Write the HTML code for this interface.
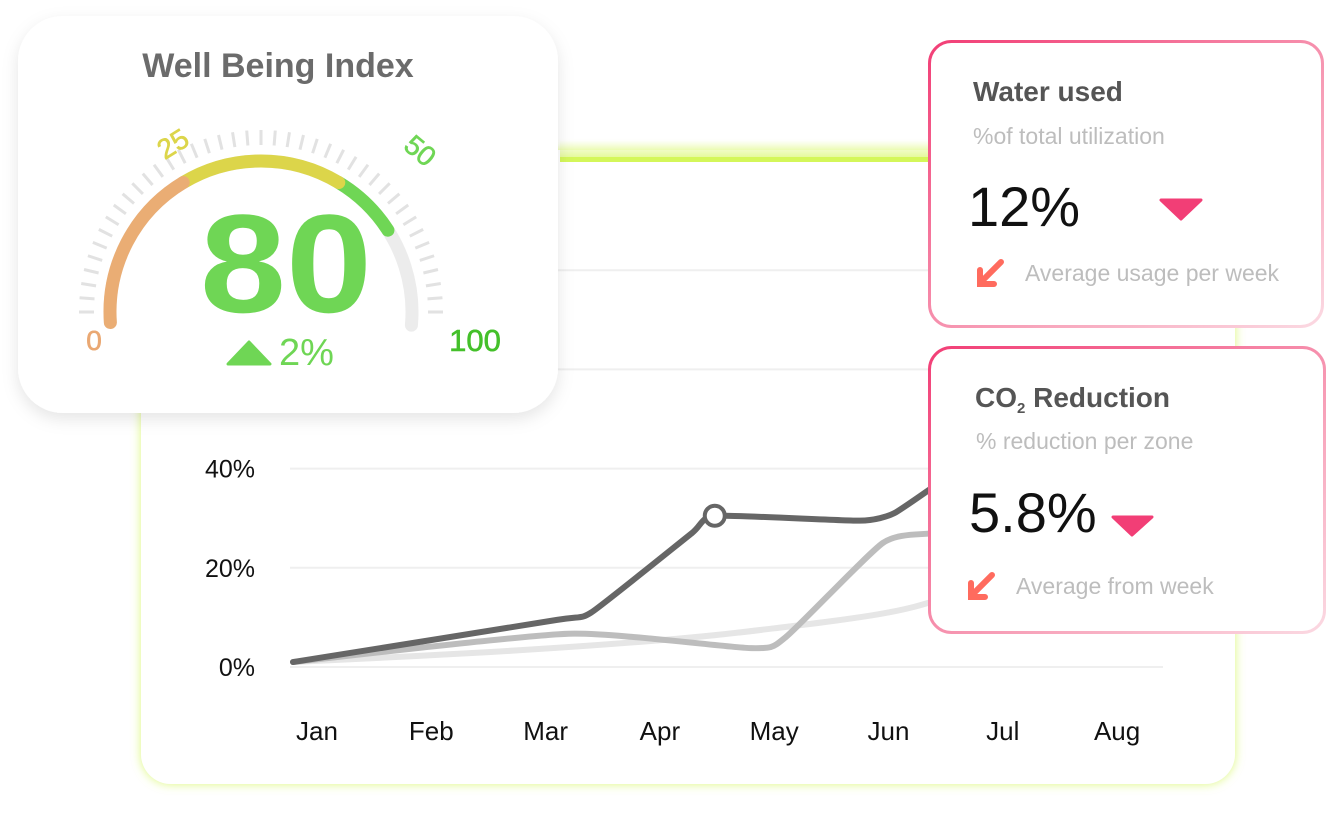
<!DOCTYPE html>
<html><head><meta charset="utf-8"><style>
html,body{margin:0;padding:0;background:#fff;width:1326px;height:816px;overflow:hidden}
svg{display:block;font-family:"Liberation Sans",sans-serif}
</style></head><body>
<svg id="root" width="1326" height="816" viewBox="0 0 1326 816">
<defs>
<filter id="sh" x="-20%" y="-20%" width="140%" height="140%"><feDropShadow dx="0" dy="6" stdDeviation="8" flood-color="#000" flood-opacity="0.10"/></filter>
<filter id="glow" x="-10%" y="-10%" width="120%" height="120%"><feDropShadow dx="0" dy="0" stdDeviation="5" flood-color="#d4f75a" flood-opacity="0.8"/></filter>
<linearGradient id="pk" x1="0" y1="0" x2="1" y2="1"><stop offset="0" stop-color="#f23e76"/><stop offset="0.6" stop-color="#f7a0b8"/><stop offset="1" stop-color="#fbd9e2"/></linearGradient>
<linearGradient id="gt" x1="0" y1="0" x2="0" y2="1"><stop offset="0" stop-color="#fff"/><stop offset="1" stop-color="#d4f75a"/></linearGradient>
</defs>

<g>
<rect x="141" y="150" width="1094" height="634" rx="30" fill="#fff" filter="url(#glow)"/>
<rect x="560" y="140" width="680" height="20" fill="url(#gt)" opacity="0.7"/>
<rect x="560" y="157" width="680" height="5" fill="#d4f75a"/>
</g>
<g id="grid"></g>
<g id="yax"></g>
<g id="xax"></g>
<g id="series"></g>

<g>
<rect x="18" y="16" width="540" height="397" rx="45" fill="#fff" filter="url(#sh)"/>
<text x="278" y="77" text-anchor="middle" font-size="34" font-weight="bold" fill="#6b6b6b">Well Being Index</text>
<g id="gauge"></g>
<text x="94" y="350" text-anchor="middle" font-size="28" fill="#eaa873" stroke="#eaa873" stroke-width="0.6">0</text>
<text x="178" y="152" text-anchor="middle" font-size="28" fill="#dcd54a" stroke="#dcd54a" stroke-width="0.6" transform="rotate(-32 178 152)">25</text>
<text x="414" y="158" text-anchor="middle" font-size="28" fill="#6fd655" stroke="#6fd655" stroke-width="0.6" transform="rotate(40 414 158)">50</text>
<text x="475" y="351" text-anchor="middle" font-size="31" fill="#44c02a" stroke="#44c02a" stroke-width="0.6">100</text>
<text x="200" y="312" font-size="140" font-weight="bold" fill="#6fd655" textLength="172" lengthAdjust="spacingAndGlyphs">80</text>
<path d="M228 364 L249 342 L270 364 Z" fill="#6fd655" stroke="#6fd655" stroke-width="3" stroke-linejoin="round"/>
<text x="279" y="365" font-size="38" fill="#6fd655">2%</text>
</g>

<g>
<rect x="929.5" y="41.5" width="393" height="285" rx="22" fill="#fff" stroke="url(#pk)" stroke-width="3"/>
<text x="973" y="101" font-size="28" font-weight="bold" fill="#555">Water used</text>
<text x="973" y="144" font-size="23" fill="#bdbdbd">%of total utilization</text>
<text x="968" y="226" font-size="56" fill="#111">12%</text>
<path d="M1161 200 L1201 200 L1181 219 Z" fill="#f23e76" stroke="#f23e76" stroke-width="3" stroke-linejoin="round"/>
<path d="M1001 262 L981 282 M980 270 L980 284 L994 284" stroke="#ff6b5e" stroke-width="6" stroke-linecap="round" fill="none"/>
<text x="1025" y="281" font-size="23" fill="#bdbdbd">Average usage per week</text>
</g>

<g>
<rect x="929.5" y="347.5" width="395" height="285" rx="22" fill="#fff" stroke="url(#pk)" stroke-width="3"/>
<text x="975" y="407" font-size="28" font-weight="bold" fill="#555">CO<tspan font-size="15" dy="6">2</tspan><tspan dy="-6"> Reduction</tspan></text>
<text x="976" y="449" font-size="23" fill="#bdbdbd">% reduction per zone</text>
<text x="969" y="532" font-size="56" fill="#111">5.8%</text>
<path d="M1113 517 L1152 517 L1132 535 Z" fill="#f23e76" stroke="#f23e76" stroke-width="3" stroke-linejoin="round"/>
<path d="M992 575 L972 595 M971 583 L971 597 L985 597" stroke="#ff6b5e" stroke-width="6" stroke-linecap="round" fill="none"/>
<text x="1016" y="594" font-size="23" fill="#bdbdbd">Average from week</text>
</g>
</svg>
<script>
const months = ["Jan","Feb","Mar","Apr","May","Jun","Jul","Aug"];
const yTicks = [0,20,40,60,80];
const yTickLabels = ["0%","20%","40%","",""];
const darkX = [-0.21,2.1,2.4,3.28,3.48,4.75,5.05,5.5,6.2];
const darkY = [1,9.5,11,27,30.5,29.5,31,38,48];
const midX = [-0.21,2.2,3.8,4.1,4.95,5.4,6.0];
const midY = [1,6.7,3.8,6,25,27,29];
const lightX = [-0.21,1.5,3.0,4.0,5.0,5.6,6.2];
const lightY = [1,3,5.4,7.8,11,14.6,18];
const highlightIndex = 4;
const gaugeValue = 80;

const NS="http://www.w3.org/2000/svg";
function mk(tag,attrs,parent){const e=document.createElementNS(NS,tag);for(const k in attrs)e.setAttribute(k,attrs[k]);parent.appendChild(e);return e;}
const xs=m=>317+m*114.3;
const ys=v=>667-v*4.96;

const grid=document.getElementById('grid');
yTicks.forEach((t,i)=>{
  const l=mk('line',{x1:290,x2:1163,y1:ys(t),y2:ys(t),stroke:'#efefef','stroke-width':2},grid);
  
  
  if(yTickLabels[i]){
    const tx=mk('text',{x:255,y:ys(t)+9,'text-anchor':'end','font-size':25,fill:'#111'},document.getElementById('yax'));
    tx.textContent=yTickLabels[i];
    
    
  }
});
months.forEach((m,i)=>{
  const tx=mk('text',{x:xs(i),y:740,'text-anchor':'middle','font-size':26,fill:'#111'},document.getElementById('xax'));
  tx.textContent=m;
  
  
});
function smooth(X,Y,t){
  const p=X.map((x,i)=>[xs(x),ys(Y[i])]);
  let d=`M${p[0][0]} ${p[0][1]}`;
  for(let i=0;i<p.length-1;i++){
    const p0=p[i-1]||p[i],p1=p[i],p2=p[i+1],p3=p[i+2]||p2;
    d+=` C${p1[0]+(p2[0]-p0[0])*t} ${p1[1]+(p2[1]-p0[1])*t} ${p2[0]-(p3[0]-p1[0])*t} ${p2[1]-(p3[1]-p1[1])*t} ${p2[0]} ${p2[1]}`;
  }
  return d;
}
const sg=document.getElementById('series');
const l1=mk('path',{d:smooth(lightX,lightY,0.18),fill:'none',stroke:'#e6e6e6','stroke-width':6,'stroke-linecap':'round'},sg);


const l2=mk('path',{d:smooth(midX,midY,0.1),fill:'none',stroke:'#bdbdbd','stroke-width':6,'stroke-linecap':'round'},sg);


const l3=mk('path',{d:smooth(darkX,darkY,0.08),fill:'none',stroke:'#666','stroke-width':6,'stroke-linecap':'round'},sg);


const hp=mk('circle',{cx:xs(darkX[highlightIndex]),cy:ys(darkY[highlightIndex]),r:10,fill:'#fff',stroke:'#666','stroke-width':4},sg);



// gauge
const g=document.getElementById('gauge');
const cx=261,cy=312,R=151;
const pt=(a,r)=>[cx+r*Math.cos(a*Math.PI/180),cy-r*Math.sin(a*Math.PI/180)];
for(let a=180;a>=0;a-=4.5){
  const [x1,y1]=pt(a,167),[x2,y2]=pt(a,182);
  const t=mk('line',{x1,y1,x2,y2,stroke:'#e2e2e2','stroke-width':3},g);
  
  
}
function arc(a1,a2,col,name){
  const [x1,y1]=pt(a1,R),[x2,y2]=pt(a2,R);
  const large=(a1-a2)>180?1:0;
  const p=mk('path',{d:`M${x1} ${y1} A${R} ${R} 0 ${large} 1 ${x2} ${y2}`,fill:'none',stroke:col,'stroke-width':13,'stroke-linecap':'round'},g);
  
  
}
const vA=a=>184-a/100*189;
arc(vA(0),vA(100),'#ececec','gauge-track');
arc(59,vA(gaugeValue),'#6fd655','gauge-green');
arc(121,59,'#dcd54a','gauge-yellow');
arc(vA(0),121,'#eaad74','gauge-orange');
</script>
</body></html>
